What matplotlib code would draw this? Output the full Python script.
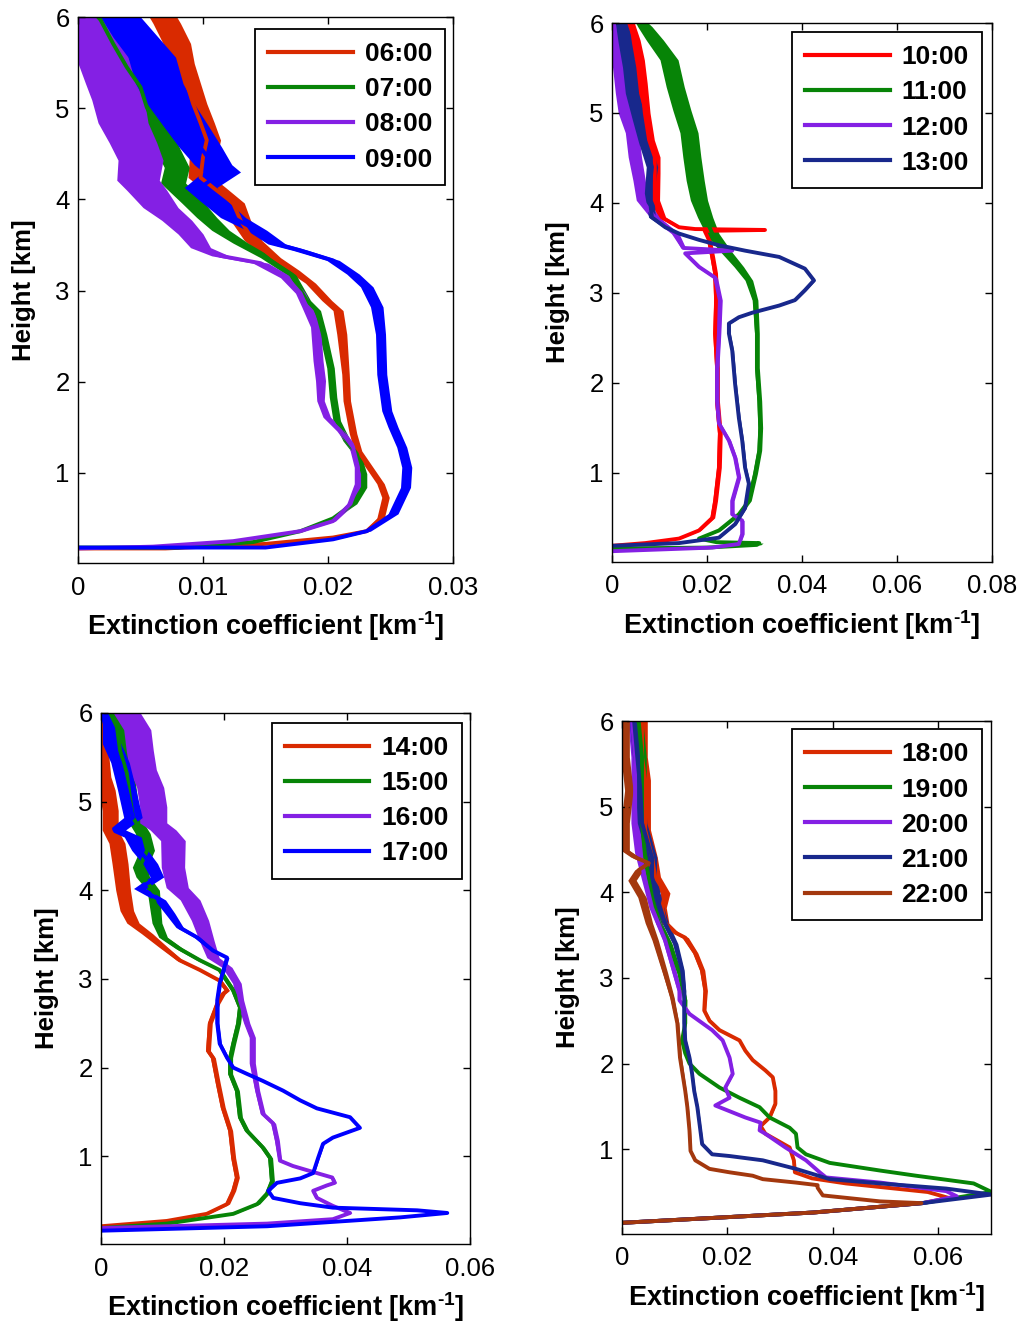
import matplotlib
matplotlib.use("Agg")
import matplotlib.pyplot as plt

plt.rcParams['font.family'] = ['Liberation Sans', 'DejaVu Sans']
plt.rcParams['mathtext.fontset'] = 'custom'
plt.rcParams['mathtext.rm'] = 'Liberation Sans:bold'
plt.rcParams['mathtext.bf'] = 'Liberation Sans:bold'

# ---- panel 1: 06:00 - 09:00 (height km, extinction km-1, noise half-width) ----
H_0600 = [0.17, 0.17, 0.22, 0.29, 0.36, 0.5, 0.73, 0.88, 1.1, 1.24, 1.43, 1.79, 2.08, 2.52, 2.78, 2.89, 3.08, 3.22, 3.36, 3.55, 3.77, 3.96, 4.13, 4.24, 4.46, 4.65, 4.84, 5.05, 5.27, 5.49, 5.71, 5.93, 6.0]
X_0600 = [0, 0.007, 0.015, 0.0204, 0.0231, 0.0242, 0.0246, 0.0242, 0.0231, 0.0224, 0.022, 0.0215, 0.0214, 0.0211, 0.0208, 0.0199, 0.0186, 0.0172, 0.0156, 0.014, 0.013, 0.0124, 0.0108, 0.0098, 0.01, 0.0103, 0.0098, 0.0092, 0.0087, 0.0082, 0.0079, 0.0071, 0.0068]
W_0600 = [0, 0, 0.0001, 0.0002, 0.0002, 0.0003, 0.0003, 0.0003, 0.0003, 0.0003, 0.0003, 0.0003, 0.0003, 0.0004, 0.0004, 0.0004, 0.0004, 0.0005, 0.0006, 0.0007, 0.0008, 0.0009, 0.001, 0.001, 0.0011, 0.0011, 0.0011, 0.0011, 0.0011, 0.0011, 0.0011, 0.0011, 0.0011]

H_0700 = [0.18, 0.18, 0.24, 0.36, 0.5, 0.66, 0.84, 0.99, 1.21, 1.35, 1.57, 1.83, 2.15, 2.52, 2.78, 2.89, 3.18, 3.36, 3.52, 3.66, 3.8, 3.96, 4.18, 4.35, 4.57, 4.79, 5.01, 5.23, 5.45, 5.71, 5.97, 6.0]
X_0700 = [0, 0.008, 0.014, 0.0178, 0.0204, 0.022, 0.0228, 0.0228, 0.0223, 0.0215, 0.0207, 0.0204, 0.0202, 0.0196, 0.0191, 0.0183, 0.017, 0.0151, 0.013, 0.0114, 0.0103, 0.0092, 0.0076, 0.0079, 0.0071, 0.0063, 0.0055, 0.005, 0.0039, 0.0028, 0.0018, 0.0016]
W_0700 = [0, 0, 0.0001, 0.0002, 0.0002, 0.0003, 0.0003, 0.0003, 0.0003, 0.0003, 0.0003, 0.0003, 0.0003, 0.0003, 0.0003, 0.0003, 0.0004, 0.0005, 0.0006, 0.0007, 0.0008, 0.0009, 0.001, 0.001, 0.001, 0.001, 0.001, 0.001, 0.001, 0.001, 0.001, 0.001]

H_0800 = [0.17, 0.19, 0.25, 0.36, 0.47, 0.66, 0.88, 1.06, 1.28, 1.46, 1.61, 1.79, 2.01, 2.23, 2.6, 2.82, 2.97, 3.14, 3.3, 3.38, 3.47, 3.62, 3.77, 3.91, 4.1, 4.21, 4.43, 4.62, 4.84, 5.09, 5.27, 5.53, 5.82, 6.0]
X_0800 = [0, 0.006, 0.0124, 0.0178, 0.0204, 0.0218, 0.0224, 0.0224, 0.022, 0.021, 0.0199, 0.0194, 0.0194, 0.0192, 0.019, 0.0183, 0.0178, 0.0167, 0.0146, 0.0114, 0.0098, 0.009, 0.0079, 0.0066, 0.0055, 0.0048, 0.005, 0.0044, 0.0036, 0.0032, 0.0027, 0.002, 0.0012, 0.0008]
W_0800 = [0, 0, 0.0001, 0.0002, 0.0002, 0.0003, 0.0003, 0.0003, 0.0003, 0.0003, 0.0003, 0.0003, 0.0004, 0.0004, 0.0004, 0.0004, 0.0004, 0.0005, 0.0006, 0.0007, 0.0008, 0.001, 0.0012, 0.0014, 0.0016, 0.0017, 0.0018, 0.0019, 0.002, 0.0021, 0.0021, 0.0021, 0.0021, 0.0021]

H_0900 = [0.18, 0.18, 0.27, 0.36, 0.55, 0.84, 1.06, 1.28, 1.5, 1.68, 2.08, 2.52, 2.82, 3.04, 3.18, 3.33, 3.44, 3.51, 3.66, 3.8, 3.99, 4.13, 4.3, 4.38, 4.57, 4.79, 5.09, 5.27, 5.56, 5.78, 6.0]
X_0900 = [0, 0.015, 0.0204, 0.0231, 0.0252, 0.0262, 0.0263, 0.0259, 0.0252, 0.0247, 0.0243, 0.0242, 0.0239, 0.0231, 0.022, 0.0204, 0.0178, 0.0159, 0.0143, 0.0124, 0.0108, 0.0098, 0.0115, 0.0108, 0.0098, 0.0087, 0.0072, 0.0065, 0.0059, 0.0046, 0.0034]
W_0900 = [0, 0, 0.0002, 0.0003, 0.0004, 0.0004, 0.0004, 0.0004, 0.0004, 0.0004, 0.0004, 0.0004, 0.0005, 0.0005, 0.0005, 0.0005, 0.0006, 0.0007, 0.0008, 0.001, 0.0011, 0.0013, 0.0015, 0.0015, 0.0017, 0.0018, 0.0019, 0.0019, 0.0019, 0.0018, 0.0016]

# ---- panel 2: 10:00 - 13:00 ----
H_1000 = [0.19, 0.22, 0.27, 0.36, 0.5, 0.69, 1.06, 1.44, 1.8, 2.17, 2.55, 2.92, 3.22, 3.4, 3.59, 3.69, 3.70, 3.71, 3.73, 3.84, 4.03, 4.33, 4.51, 4.7, 5.0, 5.33, 5.59, 5.81, 6.0]
X_1000 = [0, 0.007, 0.0141, 0.0183, 0.0211, 0.0217, 0.0225, 0.0227, 0.0221, 0.0221, 0.0217, 0.0219, 0.0217, 0.0211, 0.0204, 0.0195, 0.0322, 0.0175, 0.0141, 0.0105, 0.009, 0.009, 0.009, 0.0078, 0.0069, 0.0063, 0.0057, 0.0048, 0.0036]
W_1000 = [0, 0.0002, 0.0003, 0.0004, 0.0005, 0.0005, 0.0005, 0.0005, 0.0005, 0.0005, 0.0005, 0.0005, 0.0005, 0.0005, 0.0005, 0, 0, 0, 0.0005, 0.0008, 0.001, 0.0011, 0.0011, 0.0011, 0.0011, 0.0011, 0.0011, 0.0011, 0.0011]

H_1100 = [0.16, 0.17, 0.2, 0.22, 0.23, 0.27, 0.36, 0.54, 0.69, 0.99, 1.25, 1.5, 1.8, 2.17, 2.55, 2.92, 3.14, 3.29, 3.47, 3.66, 3.84, 4.03, 4.25, 4.51, 4.78, 5.03, 5.29, 5.59, 5.81, 5.96, 6.0]
X_1100 = [0, 0.02, 0.0305, 0.031, 0.022, 0.0183, 0.0225, 0.0267, 0.0288, 0.0301, 0.031, 0.0312, 0.031, 0.0305, 0.0305, 0.0301, 0.0288, 0.0267, 0.0238, 0.0211, 0.0196, 0.0183, 0.0175, 0.0168, 0.0162, 0.0147, 0.0133, 0.012, 0.009, 0.0069, 0.0063]
W_1100 = [0, 0.0005, 0.0008, 0.0008, 0.0003, 0.0003, 0.0004, 0.0005, 0.0005, 0.0005, 0.0005, 0.0005, 0.0005, 0.0005, 0.0005, 0.0006, 0.0008, 0.001, 0.0012, 0.0014, 0.0016, 0.0018, 0.0019, 0.0019, 0.0019, 0.0019, 0.0019, 0.0019, 0.0018, 0.0015, 0.0013]

H_1200 = [0.13, 0.17, 0.21, 0.32, 0.47, 0.54, 0.69, 0.95, 1.17, 1.36, 1.55, 1.8, 2.17, 2.55, 2.92, 3.17, 3.29, 3.44, 3.47, 3.5, 3.66, 3.84, 4.03, 4.25, 4.51, 4.78, 5.0, 5.22, 5.51, 5.78, 6.0]
X_1200 = [0, 0.0211, 0.0267, 0.0274, 0.0274, 0.0253, 0.0253, 0.0267, 0.0259, 0.0246, 0.0225, 0.0221, 0.0221, 0.0225, 0.0227, 0.0217, 0.0183, 0.0154, 0.0253, 0.015, 0.0133, 0.009, 0.0063, 0.0057, 0.0048, 0.0042, 0.0027, 0.0021, 0.0015, 0.0006, 0.0004]
W_1200 = [0, 0.0002, 0.0003, 0.0004, 0.0004, 0.0004, 0.0004, 0.0004, 0.0004, 0.0004, 0.0004, 0.0004, 0.0004, 0.0004, 0.0005, 0.0005, 0.0005, 0.0005, 0, 0.0005, 0.0008, 0.001, 0.0012, 0.0013, 0.0014, 0.0014, 0.0014, 0.0014, 0.0014, 0.0014, 0.0014]

H_1300 = [0.19, 0.22, 0.28, 0.43, 0.61, 0.88, 1.06, 1.36, 1.61, 1.99, 2.36, 2.55, 2.66, 2.73, 2.78, 2.86, 2.92, 3.03, 3.14, 3.27, 3.4, 3.47, 3.53, 3.59, 3.66, 3.73, 3.84, 4.11, 4.4, 4.67, 4.92, 5.22, 5.51, 5.78, 6.0]
X_1300 = [0, 0.0141, 0.0225, 0.0259, 0.028, 0.0288, 0.028, 0.0274, 0.0267, 0.0259, 0.0253, 0.0246, 0.0246, 0.0267, 0.0295, 0.0352, 0.0385, 0.0406, 0.0425, 0.0406, 0.0352, 0.028, 0.0225, 0.0183, 0.0141, 0.0112, 0.0084, 0.0078, 0.0084, 0.0069, 0.0057, 0.0042, 0.0036, 0.0027, 0.0021]
W_1300 = [0, 0.0001, 0.0002, 0.0003, 0.0003, 0.0003, 0.0003, 0.0003, 0.0003, 0.0003, 0.0003, 0.0003, 0.0003, 0.0003, 0.0003, 0.0003, 0.0003, 0.0003, 0.0003, 0.0003, 0.0003, 0.0003, 0.0003, 0.0003, 0.0003, 0.0004, 0.0007, 0.001, 0.0012, 0.0013, 0.0014, 0.0014, 0.0014, 0.0014, 0.0014]

# ---- panel 3: 14:00 - 17:00 ----
H_1400 = [0.21, 0.27, 0.35, 0.46, 0.61, 0.76, 0.98, 1.29, 1.55, 1.82, 2.11, 2.19, 2.5, 2.72, 2.83, 2.87, 2.98, 3.1, 3.21, 3.36, 3.51, 3.63, 3.77, 4.0, 4.3, 4.53, 4.68, 4.9, 5.13, 5.28, 5.5, 6.0]
X_1400 = [0, 0.0107, 0.0172, 0.0205, 0.0215, 0.0221, 0.0215, 0.021, 0.0198, 0.019, 0.0182, 0.0174, 0.0177, 0.0189, 0.0198, 0.0205, 0.0193, 0.0161, 0.0128, 0.0101, 0.0075, 0.0052, 0.0042, 0.0036, 0.0031, 0.0026, 0.0015, 0.0015, 0.001, 0.0003, 0.0, 0.0]
W_1400 = [0, 0.0002, 0.0003, 0.0004, 0.0004, 0.0004, 0.0004, 0.0004, 0.0004, 0.0004, 0.0004, 0.0004, 0.0004, 0.0004, 0.0004, 0.0004, 0.0004, 0.0004, 0.0005, 0.0007, 0.0009, 0.001, 0.0011, 0.0012, 0.0013, 0.0013, 0.0013, 0.0013, 0.0013, 0.0013, 0.0013, 0.0013]

H_1500 = [0.19, 0.24, 0.35, 0.46, 0.58, 0.72, 0.98, 1.1, 1.29, 1.44, 1.74, 1.93, 2.11, 2.27, 2.5, 2.68, 2.87, 3.1, 3.21, 3.34, 3.47, 3.63, 3.81, 4.0, 4.15, 4.26, 4.45, 4.64, 4.82, 5.05, 5.32, 5.58, 5.84, 6.0]
X_1500 = [0, 0.0107, 0.0215, 0.0254, 0.027, 0.0278, 0.0275, 0.0263, 0.0237, 0.0226, 0.0221, 0.021, 0.021, 0.0215, 0.0223, 0.0226, 0.0215, 0.0193, 0.0161, 0.0128, 0.0101, 0.0091, 0.0088, 0.0085, 0.0068, 0.0063, 0.0075, 0.0068, 0.0052, 0.0047, 0.0042, 0.0031, 0.0026, 0.0015]
W_1500 = [0, 0.0002, 0.0003, 0.0004, 0.0004, 0.0004, 0.0004, 0.0004, 0.0004, 0.0004, 0.0004, 0.0004, 0.0004, 0.0004, 0.0004, 0.0004, 0.0004, 0.0004, 0.0005, 0.0006, 0.0007, 0.0008, 0.0009, 0.001, 0.0011, 0.0012, 0.0012, 0.0012, 0.0012, 0.0012, 0.0012, 0.0012, 0.0012, 0.0012]

H_1600 = [0.19, 0.24, 0.29, 0.36, 0.44, 0.53, 0.61, 0.67, 0.7, 0.76, 0.81, 0.89, 0.95, 1.18, 1.37, 1.48, 1.74, 2.05, 2.34, 2.5, 2.76, 2.95, 3.13, 3.24, 3.43, 3.66, 3.89, 4.03, 4.26, 4.56, 4.68, 4.76, 4.94, 5.16, 5.36, 5.58, 5.81, 6.0]
X_1600 = [0, 0.027, 0.0377, 0.0405, 0.0377, 0.0351, 0.0345, 0.0367, 0.038, 0.0376, 0.0351, 0.0312, 0.0291, 0.0286, 0.028, 0.0263, 0.0254, 0.0246, 0.0246, 0.0237, 0.0226, 0.0221, 0.0205, 0.0182, 0.0172, 0.0161, 0.0145, 0.0124, 0.0117, 0.0117, 0.0101, 0.0085, 0.0085, 0.008, 0.0068, 0.0063, 0.0059, 0.0042]
W_1600 = [0, 0.0002, 0.0003, 0.0003, 0.0003, 0.0003, 0.0003, 0.0003, 0.0003, 0.0003, 0.0003, 0.0003, 0.0003, 0.0004, 0.0004, 0.0004, 0.0004, 0.0005, 0.0005, 0.0005, 0.0006, 0.0007, 0.0008, 0.001, 0.0012, 0.0014, 0.0016, 0.0018, 0.0019, 0.002, 0.0021, 0.0022, 0.0022, 0.0022, 0.0022, 0.0022, 0.0022, 0.0022]

H_1700 = [0.16, 0.21, 0.31, 0.36, 0.39, 0.42, 0.47, 0.53, 0.61, 0.7, 0.75, 0.81, 0.98, 1.14, 1.21, 1.32, 1.44, 1.54, 1.63, 1.74, 1.85, 1.93, 2.0, 2.11, 2.27, 2.5, 2.76, 2.95, 3.24, 3.32, 3.47, 3.58, 3.74, 3.89, 4.02, 4.15, 4.3, 4.45, 4.6, 4.68, 4.82, 5.13, 5.44, 5.69, 5.95, 6.0]
X_1700 = [0, 0.027, 0.0486, 0.0563, 0.0514, 0.0377, 0.0324, 0.028, 0.0272, 0.0286, 0.0324, 0.0345, 0.0353, 0.0361, 0.0377, 0.0421, 0.0405, 0.0351, 0.0324, 0.0296, 0.0263, 0.0237, 0.0215, 0.0205, 0.0193, 0.0189, 0.0189, 0.0193, 0.0205, 0.0182, 0.0156, 0.0128, 0.0112, 0.0096, 0.0063, 0.0091, 0.008, 0.0063, 0.0052, 0.0026, 0.0052, 0.0042, 0.0031, 0.0015, 0.0003, 0.0]
W_1700 = [0, 0.0001, 0.0001, 0.0001, 0.0001, 0.0001, 0.0001, 0.0002, 0.0002, 0.0002, 0.0002, 0.0002, 0.0002, 0.0002, 0.0002, 0.0002, 0.0002, 0.0002, 0.0002, 0.0002, 0.0002, 0.0002, 0.0002, 0.0003, 0.0003, 0.0003, 0.0003, 0.0003, 0.0003, 0.0004, 0.0005, 0.0006, 0.0008, 0.0009, 0.001, 0.0011, 0.0012, 0.0013, 0.0014, 0.0014, 0.0015, 0.0015, 0.0015, 0.0015, 0.0015, 0.0015]

# ---- panel 4: 18:00 - 22:00 ----
H_1800 = [0.14, 0.26, 0.37, 0.43, 0.5, 0.6, 0.66, 0.73, 0.87, 1.02, 1.18, 1.27, 1.37, 1.53, 1.68, 1.84, 1.92, 2.04, 2.15, 2.27, 2.39, 2.5, 2.62, 2.85, 3.09, 3.29, 3.47, 3.53, 3.64, 3.82, 3.99, 4.18, 4.41, 4.73, 4.99, 5.31, 5.58, 5.93, 6.0]
X_1800 = [0, 0.0362, 0.057, 0.062, 0.058, 0.0425, 0.036, 0.0328, 0.0326, 0.0318, 0.0272, 0.0263, 0.028, 0.0291, 0.0291, 0.0286, 0.0272, 0.0248, 0.0234, 0.0223, 0.0185, 0.0166, 0.0156, 0.0158, 0.0152, 0.0139, 0.012, 0.0101, 0.0082, 0.0076, 0.0082, 0.0063, 0.0057, 0.0044, 0.0044, 0.0044, 0.0038, 0.0038, 0.0038]
W_1800 = [0, 0.0001, 0.0001, 0.0001, 0.0001, 0.0002, 0.0002, 0.0002, 0.0002, 0.0002, 0.0002, 0.0002, 0.0002, 0.0002, 0.0002, 0.0002, 0.0002, 0.0002, 0.0002, 0.0002, 0.0003, 0.0003, 0.0003, 0.0004, 0.0005, 0.0005, 0.0006, 0.0006, 0.0007, 0.0008, 0.0009, 0.001, 0.001, 0.001, 0.001, 0.001, 0.001, 0.001, 0.001]

H_1900 = [0.14, 0.26, 0.37, 0.5, 0.6, 0.69, 0.75, 0.84, 0.94, 1.02, 1.18, 1.25, 1.37, 1.49, 1.6, 1.72, 1.88, 2.0, 2.12, 2.27, 2.47, 2.74, 3.05, 3.4, 3.64, 3.94, 4.41, 4.81, 5.19, 5.58, 5.98, 6.0]
X_1900 = [0, 0.0362, 0.057, 0.0701, 0.0667, 0.0558, 0.049, 0.0394, 0.0349, 0.0333, 0.033, 0.0318, 0.028, 0.0261, 0.0223, 0.0185, 0.0147, 0.0128, 0.012, 0.0114, 0.012, 0.012, 0.0109, 0.009, 0.007, 0.0057, 0.0044, 0.0038, 0.0038, 0.0038, 0.0032, 0.003]
W_1900 = [0, 0.0001, 0.0001, 0.0001, 0.0001, 0.0001, 0.0001, 0.0001, 0.0001, 0.0001, 0.0001, 0.0001, 0.0001, 0.0001, 0.0001, 0.0001, 0.0002, 0.0002, 0.0002, 0.0002, 0.0002, 0.0003, 0.0004, 0.0005, 0.0006, 0.0007, 0.0008, 0.0008, 0.0008, 0.0008, 0.0008, 0.0008]

H_2000 = [0.14, 0.26, 0.37, 0.45, 0.51, 0.61, 0.67, 0.73, 0.87, 1.02, 1.18, 1.22, 1.31, 1.37, 1.51, 1.6, 1.72, 1.88, 2.07, 2.27, 2.39, 2.58, 2.74, 2.85, 3.44, 3.82, 4.46, 4.81, 5.58, 6.0]
X_2000 = [0, 0.0362, 0.057, 0.0635, 0.0615, 0.049, 0.0387, 0.0375, 0.0349, 0.031, 0.0272, 0.0261, 0.0263, 0.0234, 0.0177, 0.0204, 0.0196, 0.021, 0.0204, 0.0191, 0.0171, 0.0128, 0.0109, 0.0109, 0.0082, 0.0057, 0.0032, 0.0025, 0.0025, 0.0019]
W_2000 = [0, 0.0001, 0.0001, 0.0001, 0.0001, 0.0001, 0.0001, 0.0001, 0.0001, 0.0001, 0.0001, 0.0001, 0.0001, 0.0001, 0.0001, 0.0002, 0.0002, 0.0002, 0.0002, 0.0002, 0.0002, 0.0003, 0.0003, 0.0004, 0.0005, 0.0006, 0.0008, 0.0008, 0.0008, 0.0008]

H_2100 = [0.14, 0.26, 0.37, 0.47, 0.54, 0.6, 0.65, 0.77, 0.87, 0.92, 0.94, 1.06, 1.3, 1.49, 1.68, 1.88, 2.07, 2.27, 2.47, 2.85, 3.09, 3.4, 3.64, 3.87, 4.18, 4.41, 4.53, 4.81, 5.19, 5.58, 6.0]
X_2100 = [0, 0.0362, 0.057, 0.0701, 0.0615, 0.049, 0.0394, 0.033, 0.0267, 0.0204, 0.0171, 0.0152, 0.0147, 0.0143, 0.0137, 0.0133, 0.0128, 0.012, 0.0118, 0.0118, 0.0114, 0.0101, 0.0082, 0.007, 0.0057, 0.0057, 0.0051, 0.0038, 0.0035, 0.0029, 0.0023]
W_2100 = [0, 0.0001, 0.0001, 0.0001, 0.0001, 0.0001, 0.0001, 0.0001, 0.0001, 0.0001, 0.0001, 0.0002, 0.0002, 0.0002, 0.0002, 0.0002, 0.0002, 0.0002, 0.0003, 0.0003, 0.0004, 0.0005, 0.0006, 0.0007, 0.0008, 0.0009, 0.0009, 0.0009, 0.0009, 0.0009, 0.0009]

H_2200 = [0.14, 0.26, 0.37, 0.39, 0.46, 0.55, 0.58, 0.61, 0.65, 0.69, 0.73, 0.77, 0.87, 0.98, 1.22, 1.49, 1.68, 2.07, 2.47, 2.77, 3.05, 3.44, 3.64, 3.94, 4.14, 4.26, 4.34, 4.41, 4.49, 4.81, 5.19, 5.58, 6.0]
X_2200 = [0, 0.0362, 0.0568, 0.049, 0.0381, 0.0371, 0.0371, 0.033, 0.0267, 0.0248, 0.0204, 0.0166, 0.0139, 0.013, 0.0128, 0.0124, 0.012, 0.011, 0.0105, 0.0095, 0.0082, 0.0063, 0.0051, 0.0038, 0.0019, 0.0032, 0.0051, 0.0025, 0.0006, 0.0006, 0.0013, 0.0006, 0.0006]
W_2200 = [0, 0.0001, 0.0001, 0.0001, 0.0001, 0.0001, 0.0001, 0.0001, 0.0001, 0.0001, 0.0001, 0.0001, 0.0002, 0.0002, 0.0002, 0.0002, 0.0002, 0.0003, 0.0003, 0.0004, 0.0005, 0.0006, 0.0007, 0.0008, 0.0008, 0.0008, 0.0008, 0.0008, 0.0008, 0.0008, 0.0008, 0.0008, 0.0008]

RED = '#D92A00'
RED2 = '#FF0000'
GREEN = '#078407'
PURPLE = '#8420E4'
BLUE = '#0000FF'
NAVY = '#18288C'
BROWN = '#A3380E'

PANELS = [
    dict(rect=[0.0762, 0.5741, 0.3662, 0.4130], xlim=0.03, xticks=[0, 0.01, 0.02, 0.03],
         xticklabels=['0', '0.01', '0.02', '0.03'], leg=(0.979, 0.978),
         curves=[('06:00', H_0600, X_0600, W_0600, RED), ('07:00', H_0700, X_0700, W_0700, GREEN),
                 ('08:00', H_0800, X_0800, W_0800, PURPLE), ('09:00', H_0900, X_0900, W_0900, BLUE)]),
    dict(rect=[0.5977, 0.5749, 0.3711, 0.4077], xlim=0.08, xticks=[0, 0.02, 0.04, 0.06, 0.08],
         xticklabels=['0', '0.02', '0.04', '0.06', '0.08'], leg=(0.974, 0.983),
         curves=[('10:00', H_1000, X_1000, W_1000, RED2), ('11:00', H_1100, X_1100, W_1100, GREEN),
                 ('12:00', H_1200, X_1200, W_1200, PURPLE), ('13:00', H_1300, X_1300, W_1300, NAVY)]),
    dict(rect=[0.0986, 0.0590, 0.3604, 0.4017], xlim=0.06, xticks=[0, 0.02, 0.04, 0.06],
         xticklabels=['0', '0.02', '0.04', '0.06'], leg=(0.978, 0.981),
         curves=[('14:00', H_1400, X_1400, W_1400, RED), ('15:00', H_1500, X_1500, W_1500, GREEN),
                 ('16:00', H_1600, X_1600, W_1600, PURPLE), ('17:00', H_1700, X_1700, W_1700, BLUE)]),
    dict(rect=[0.6074, 0.0666, 0.3604, 0.3880], xlim=0.07, xticks=[0, 0.02, 0.04, 0.06],
         xticklabels=['0', '0.02', '0.04', '0.06'], leg=(0.976, 0.984),
         curves=[('18:00', H_1800, X_1800, W_1800, RED), ('19:00', H_1900, X_1900, W_1900, GREEN),
                 ('20:00', H_2000, X_2000, W_2000, PURPLE), ('21:00', H_2100, X_2100, W_2100, NAVY),
                 ('22:00', H_2200, X_2200, W_2200, BROWN)]),
]


def draw_panel(fig, p):
    ax = fig.add_axes(p['rect'])
    for label, h, x, w, c in p['curves']:
        lo = [xi - wi for xi, wi in zip(x, w)]
        hi = [xi + wi for xi, wi in zip(x, w)]
        ax.fill_betweenx(h, lo, hi, color=c, lw=0)
        ax.plot(x, h, color=c, lw=2.8, label=label)
    ax.set_xlim(0, p['xlim'])
    ax.set_ylim(0.01, 6)
    ax.set_xticks(p['xticks'])
    ax.set_xticklabels(p['xticklabels'])
    ax.set_yticks([1, 2, 3, 4, 5, 6])
    ax.tick_params(direction='in', length=5, width=1, top=True, right=True,
                   labelsize=18.5, colors='black')
    ax.tick_params(axis='x', pad=9)
    ax.tick_params(axis='y', pad=6)
    for s in ax.spines.values():
        s.set_linewidth(1.0)
    ax.set_xlabel(r'Extinction coefficient [km$^{\text{-1}}$]', fontsize=19.5,
                  fontweight='bold', labelpad=7)
    ax.set_ylabel('Height [km]', fontsize=18.5, fontweight='bold', labelpad=14)
    leg = ax.legend(loc='upper right', bbox_to_anchor=p['leg'], fancybox=False,
                    edgecolor='black', framealpha=1, prop={'size': 19, 'weight': 'bold'},
                    handlelength=3.2, handletextpad=0.45, labelspacing=0.42,
                    borderpad=0.5, borderaxespad=0)
    leg.get_frame().set_linewidth(1.3)
    for line in leg.get_lines():
        line.set_linewidth(3)
    return ax


fig = plt.figure(figsize=(10.24, 13.22), dpi=100)
for p in PANELS:
    draw_panel(fig, p)
fig.savefig('out.png', dpi=100, facecolor='white')
